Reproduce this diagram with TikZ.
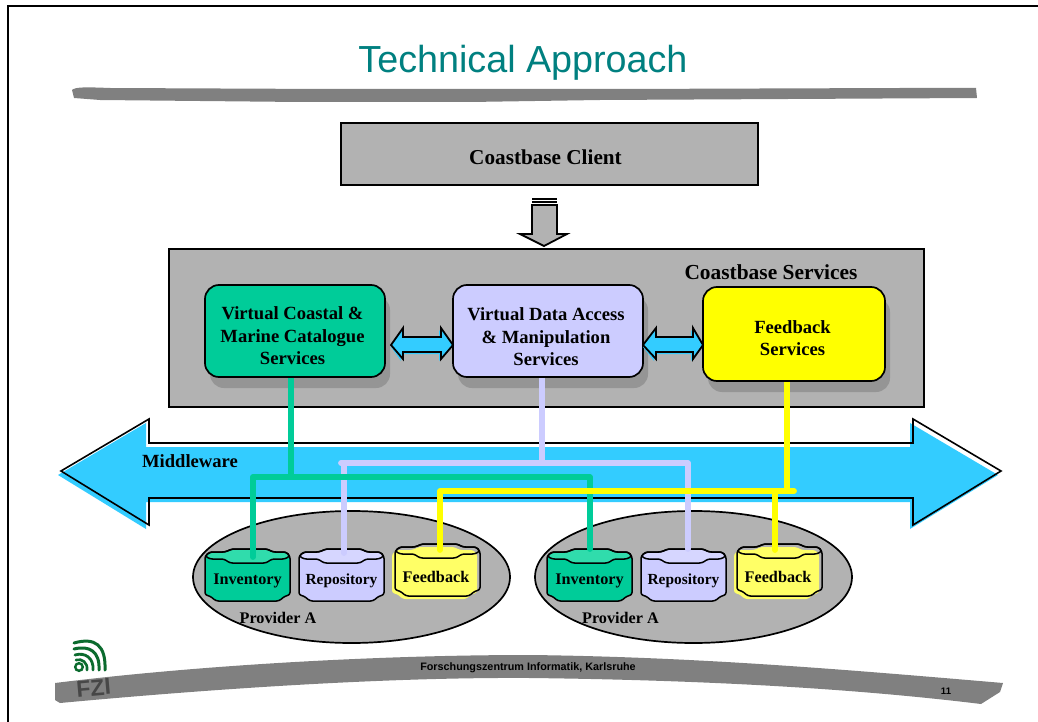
\documentclass[tikz,border=0pt]{standalone}
\usepackage{fontspec}
\setmainfont{Liberation Serif}
\setsansfont{Liberation Sans}
\usetikzlibrary{shapes.geometric,shadows,calc}
\definecolor{panelgray}{HTML}{B2B2B2}
\definecolor{shadegray}{HTML}{959595}
\definecolor{swoosh}{HTML}{808080}
\definecolor{mwblue}{HTML}{33CCFF}
\definecolor{cgreen}{HTML}{00CC99}
\definecolor{cgreenlid}{HTML}{30DCAC}
\definecolor{clilac}{HTML}{CCCCFF}
\definecolor{clilaclid}{HTML}{D6D6FF}
\definecolor{cyellow}{HTML}{FFFF00}
\definecolor{cyellowb}{HTML}{FFFF66}
\definecolor{titleteal}{HTML}{008080}
\definecolor{logogreen}{HTML}{0B6B2E}
\tikzset{
  panel/.style={draw=black,line width=1.7pt,fill=panelgray,inner sep=0pt},
  svcbox/.style={draw=black,line width=1.7pt,rounded corners=14pt,inner sep=0pt,
    general shadow={fill=shadegray,shadow xshift=5pt,shadow yshift=-11pt}},
  svctext/.style={font=\bfseries\fontsize{18.6}{22.5}\selectfont,align=center,inner sep=0pt},
  cyllabel/.style={font=\bfseries\fontsize{16.2}{18}\selectfont,inner sep=0pt},
  provlabel/.style={font=\bfseries\fontsize{16.2}{18}\selectfont,inner sep=0pt},
  provider/.style={ellipse,draw=black,line width=1.7pt,fill=panelgray,inner sep=0pt,minimum width=317pt,minimum height=132pt},
  link/.style={line width=5.8pt,line join=round,line cap=round},
  outlined/.style={draw=black,line width=1.8pt,line join=miter},
  foot/.style={font=\sffamily\bfseries\fontsize{10.8}{12}\selectfont,inner sep=0pt}
}
% double block arrow: #1 left tip x, #2 left head back x, #3 right head back x, #4 right tip x
\newcommand{\dblarrowpath}[4]{(#1,345)--(#2,328)--(#2,337)--(#3,337)--(#3,328)--(#4,345)--(#3,359)--(#3,352)--(#2,352)--(#2,359)--cycle}
\newcommand{\bigarrowpath}{(61,471)--(149,419)--(149,443)--(913,443)--(913,419)--(1001,471)--(913,525)--(913,498)--(149,498)--(149,525)--cycle}
% cylinder outline, 85 x 52
\newcommand{\cylbody}{(0,7)--(5,3)--(20,3)--(27,0)--(62,0)--(68,3)--(81,3)--(85,7)--(85,46)--(80,47)--(74,52)--(11,52)--(5,47)--(0,46)--cycle}
\newcommand{\cyllid}{(0,7)--(5,3)--(20,3)--(27,0)--(62,0)--(68,3)--(81,3)--(85,7)--(80,10)--(67,10)--(61,14)--(25,14)--(19,10)--(5,10)--cycle}
% #1 name, #2 position, #3 body colour, #4 lid colour, #5 label
\newcommand{\cylinder}[5]{%
  \begin{scope}[shift={(#2)}]
    \path[fill=#3,rounded corners=2.5pt] \cylbody;
    \path[fill=#4,rounded corners=2.5pt] \cyllid;
    \draw[line width=1.5pt,rounded corners=2.5pt] \cylbody;
    \draw[line width=1.5pt,rounded corners=2.5pt] \cyllid;
    \node[cyllabel] (#1) at (42.5,32) {#5};
  \end{scope}}
% the feedback cylinder: fill offset from its outline
\newcommand{\cylinderoff}[5]{%
  \begin{scope}[shift={(#2)}]
    \begin{scope}[shift={(-3,3)}]
      \path[fill=#3,rounded corners=2.5pt] \cylbody;
    \end{scope}
    \draw[line width=1.5pt,rounded corners=2.5pt] \cylbody;
    \draw[line width=1.5pt,rounded corners=2.5pt] \cyllid;
    \node[cyllabel] (#1) at (41,33) {#5};
  \end{scope}}
\begin{document}
\begin{tikzpicture}[x=1pt,y=-1pt]
\useasboundingbox (0,0) rectangle (1038,722);
\fill[white] (0,0) rectangle (1038,722);
% slide frame
\coordinate (frameTL) at (8,6);
\draw[line width=1.6pt] (1038,6) -- (frameTL) -- (8,722);
% swooshes
\fill[swoosh] (72,90) .. controls (75,87) and (85,87) .. (110,88) -- (330,89) -- (620,89) -- (900,88) -- (976,88) -- (977,98) -- (600,100) -- (470,102) -- (300,102) -- (100,100) -- (74,98) -- cycle;
\fill[swoosh] (55,683) .. controls (200,665) and (380,655) .. (530,655) .. controls (700,657) and (850,670) .. (1003,683) -- (1000,692) -- (981,704) .. controls (850,688) and (700,680) .. (530,678) .. controls (380,677) and (200,690) .. (60,703) -- (55,700) -- cycle;
% title
\node[font=\fontsize{37.7}{42}\selectfont\sffamily,text=titleteal,inner sep=0pt] (title) at (523,63) {Technical Approach};
% client
\node[panel,minimum width=417pt,minimum height=62pt] (client) at (549.5,154) {};
\node[font=\bfseries\fontsize{21.2}{24}\selectfont,inner sep=0pt] (clienttext) at (545.5,157) {Coastbase Client};
% down block arrow
\coordinate (dnL) at (532,205);
\coordinate (dnR) at (557,205);
\draw[outlined,fill=panelgray] (dnL) -- (532,234) -- (520,234) -- (544,246) -- (567,234) -- (557,234) -- (dnR) -- cycle;
\foreach \yy in {199.2,202.2,205.2} \draw[line width=2.5pt] (532,\yy) -- (557,\yy);
% services panel
\node[panel,minimum width=755pt,minimum height=158pt] (services) at (546.5,328) {};
\node[font=\bfseries\fontsize{21.4}{24}\selectfont,inner sep=0pt] (servicestitle) at (771,272) {Coastbase Services};
\node[svcbox,fill=cgreen,minimum width=180pt,minimum height=92pt] (vcm) at (295,331) {};
\node[svcbox,fill=clilac,minimum width=190pt,minimum height=92pt] (vda) at (548,331) {};
\node[svcbox,fill=cyellow,minimum width=182pt,minimum height=94pt] (fbs) at (794,334) {};
\node[svctext] (vcmtext) at (292.5,336) {Virtual Coastal \&\\Marine Catalogue\\Services};
\node[svctext] (vdatext) at (546,337) {Virtual Data Access\\\& Manipulation\\Services};
\node[svctext] (fbstext) at (792.5,338) {Feedback\\Services};
% double block arrows
\begin{scope}[shift={(-2,2)}]
  \fill[mwblue] \dblarrowpath{393}{403}{441}{453};
  \fill[mwblue] \dblarrowpath{645}{656}{693}{703};
\end{scope}
\fill[mwblue] \dblarrowpath{391}{403}{441}{453};
\fill[mwblue] \dblarrowpath{643}{656}{693}{703};
\draw[outlined] \dblarrowpath{391}{403}{441}{453};
\draw[outlined] \dblarrowpath{643}{656}{693}{703};
% middleware arrow
\begin{scope}[shift={(-3,4)}]
  \fill[mwblue] \bigarrowpath;
\end{scope}
\draw[outlined,line width=1.6pt] \bigarrowpath;
\node[font=\bfseries\fontsize{18.6}{20}\selectfont,inner sep=0pt] (mw) at (190,461) {Middleware};
% providers
\node[provider] (provA) at (351.5,577) {};
\node[provider] (provB) at (693.5,577) {};
\cylinder{invA}{205,549}{cgreen}{cgreenlid}{Inventory}
\cylinder{repA}{299,549}{clilac}{clilaclid}{\fontsize{15.4}{18}\selectfont Repository}
\cylinderoff{fbA}{395,544}{cyellowb}{cyellowb}{Feedback}
\cylinder{invB}{547,549}{cgreen}{cgreenlid}{Inventory}
\cylinder{repB}{641,549}{clilac}{clilaclid}{\fontsize{15.4}{18}\selectfont Repository}
\cylinderoff{fbB}{737,544}{cyellowb}{cyellowb}{Feedback}
\node[provlabel] (provAtext) at (278,618) {Provider A};
\node[provlabel] (provBtext) at (620.5,618) {Provider A};
% connector junctions
\coordinate (lilacJ) at (542,463);
\coordinate (greenJ) at (291,477);
\coordinate (yellowJ) at (787,491);
\coordinate (repAdrop) at (344,463);
\coordinate (repBdrop) at (688,463);
\coordinate (invAdrop) at (253,477);
\coordinate (invBdrop) at (590,477);
\coordinate (fbAdrop) at (440,491);
\coordinate (fbBdrop) at (775,491);
% lilac
\draw[link,clilac,line cap=butt] (vda.south -| lilacJ) -- (lilacJ);
\draw[link,clilac] (341,463) -- (repBdrop) -- (688,549);
\draw[link,clilac] (repAdrop) -- (344,553);
% green
\draw[link,cgreen,line cap=butt] (vcm.south -| greenJ) -- (291,479);
\draw[link,cgreen] (253,557) -- (invAdrop) -- (invBdrop) -- (590,549);
% yellow
\draw[link,cyellow,line cap=butt] (fbs.south -| yellowJ) -- (yellowJ);
\draw[link,cyellow] (440,550) -- (fbAdrop) -- (794,491);
\draw[link,cyellow] (fbBdrop) -- (775,550);
% footer
\node[foot] (footer) at (528,668) {Forschungszentrum Informatik, Karlsruhe};
\node[foot,font=\sffamily\bfseries\fontsize{9.5}{11}\selectfont] (pageno) at (946,691) {11};
% logo
\begin{scope}[logogreen,line cap=round]
  \draw[line width=3pt] (74,643) .. controls (95,637) and (106,645) .. (105,670);
  \draw[line width=3pt] (74,649) .. controls (90,645) and (100,652) .. (99,670);
  \draw[line width=2.8pt] (75,655) .. controls (85,652) and (94,658) .. (93,670);
  \draw[line width=2.6pt] (76,660) .. controls (82,658) and (88,663) .. (87,670);
  \draw[line width=2.4pt] (79,667) circle[radius=3.8];
\end{scope}
\node[font=\sffamily\bfseries\fontsize{23}{24}\selectfont,text=black!72,rotate=5,inner sep=0pt] (fzi) at (93.5,688) {FZI};
\end{tikzpicture}
\end{document}
